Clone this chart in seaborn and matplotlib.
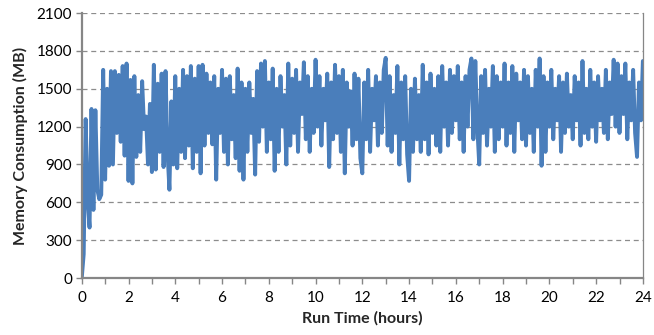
import numpy as np
import pandas as pd
import matplotlib
matplotlib.use('Agg')
import matplotlib.pyplot as plt
import seaborn as sns

# memory readings every 5 minutes, one row per hour
hour_00 = [0, 190, 1260, 620, 400, 1340, 540, 1330, 700, 625, 660, 1650]
hour_01 = [780, 1500, 890, 1640, 900, 1640, 1150, 1610, 1080, 1680, 970, 1700]
hour_02 = [770, 1570, 750, 1600, 960, 1450, 1000, 1560, 1180, 1280, 900, 1380]
hour_03 = [840, 1690, 860, 1540, 1000, 1620, 880, 1640, 1000, 700, 1400, 900]
hour_04 = [1600, 870, 1500, 1000, 1650, 950, 1600, 1050, 1680, 870, 1580, 1000]
hour_05 = [1680, 830, 1690, 1050, 1620, 1150, 1550, 1060, 1600, 780, 1500, 1150]
hour_06 = [1650, 1000, 1580, 900, 1600, 1100, 1450, 950, 1660, 850, 1550, 780]
hour_07 = [1500, 1000, 1550, 1150, 1420, 820, 1640, 1080, 1700, 1200, 1720, 1000]
hour_08 = [1550, 1100, 1660, 850, 1500, 1000, 1600, 1200, 1450, 900, 1700, 1050]
hour_09 = [1580, 1150, 1650, 1000, 1550, 1300, 1710, 1100, 1600, 1000, 1500, 1150]
hour_10 = [1730, 1200, 1600, 1050, 1500, 1250, 1620, 880, 1550, 1100, 1690, 1150]
hour_11 = [1600, 1000, 1650, 830, 1550, 1200, 1480, 1050, 1620, 1100, 1580, 950]
hour_12 = [830, 1550, 1100, 1650, 1000, 1500, 1250, 1600, 1050, 1550, 1150, 1650]
hour_13 = [1745, 1050, 1600, 1000, 1450, 1150, 1680, 900, 1550, 1100, 1600, 980]
hour_14 = [770, 1500, 1000, 1580, 1100, 1450, 1000, 1690, 1100, 1550, 980, 1620]
hour_15 = [1150, 1500, 1050, 1600, 1000, 1680, 1200, 1550, 1050, 1650, 1150, 1600]
hour_16 = [1250, 1680, 1100, 1550, 1000, 1600, 1200, 1650, 1740, 1100, 1720, 1200]
hour_17 = [900, 1600, 1150, 1650, 1050, 1500, 1200, 1680, 1000, 1600, 1100, 1550]
hour_18 = [1200, 1700, 1050, 1550, 1150, 1680, 1000, 1620, 1250, 1550, 1100, 1650]
hour_19 = [1050, 1600, 1150, 1500, 1000, 1650, 1200, 1740, 890, 1600, 1000, 1550]
hour_20 = [1200, 1650, 1100, 1500, 1250, 1600, 1000, 1550, 1150, 1620, 1200, 1450]
hour_21 = [1100, 1600, 1250, 1550, 1050, 1720, 1150, 1500, 1100, 1650, 1200, 1550]
hour_22 = [1080, 1600, 1250, 1500, 1150, 1650, 1100, 1550, 1300, 1730, 1200, 1700]
hour_23 = [1150, 1600, 1300, 1700, 1100, 1550, 1250, 1650, 1150, 960, 1550, 1250]
final_reading = [1720]

hours = [hour_00, hour_01, hour_02, hour_03, hour_04, hour_05, hour_06, hour_07,
         hour_08, hour_09, hour_10, hour_11, hour_12, hour_13, hour_14, hour_15,
         hour_16, hour_17, hour_18, hour_19, hour_20, hour_21, hour_22, hour_23]
memory_mb = [v for h in hours for v in h] + final_reading
run_time = np.arange(len(memory_mb)) * 5 / 60.0

df = pd.DataFrame({'Run Time (hours)': run_time, 'Memory Consumption (MB)': memory_mb})

sns.set_style('white')
plt.rcParams['font.family'] = ['Lato', 'DejaVu Sans']

fig = plt.figure(figsize=(6.54, 3.35), dpi=100)
ax = fig.add_axes([0.125, 0.170, 0.858, 0.791])

sns.lineplot(data=df, x='Run Time (hours)', y='Memory Consumption (MB)',
             ax=ax, color='#4a7ebb', linewidth=2.8, estimator=None)

ax.set_xlim(0, 24)
ax.set_ylim(0, 2100)
ax.set_xticks(range(0, 25, 2))
ax.set_xticks(range(0, 25, 1), minor=True)
ax.set_yticks(range(0, 2101, 300))

ax.yaxis.grid(True, linestyle=(0, (4, 3)), color='#8c8c8c', linewidth=0.9)
ax.set_axisbelow(True)

for side in ['left', 'bottom']:
    ax.spines[side].set_color('#868686')
    ax.spines[side].set_linewidth(1.6)
ax.spines['right'].set_color('#868686')
ax.spines['right'].set_linewidth(0.9)
ax.spines['top'].set_visible(False)

ax.tick_params(axis='both', which='both', direction='out', color='#868686',
               labelsize=11, labelcolor='black')
ax.tick_params(axis='x', which='both', length=4, width=1, pad=5)
ax.tick_params(axis='y', length=4, width=1, pad=3)
ax.tick_params(left=True, bottom=True)
ax.tick_params(axis='x', which='minor', bottom=True)

ax.set_xlabel('Run Time (hours)', fontsize=11.5, fontweight='bold', labelpad=5)
ax.set_ylabel('Memory Consumption (MB)', fontsize=11.5, fontweight='bold', labelpad=6)

fig.savefig('out.png', dpi=100)
plt.close(fig)
